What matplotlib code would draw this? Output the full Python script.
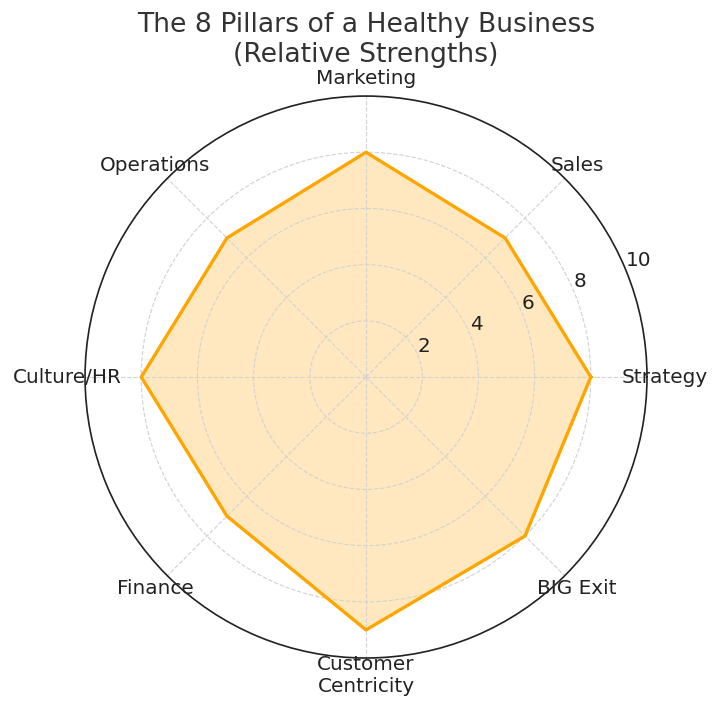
import numpy as np
import matplotlib
matplotlib.use("Agg")
import matplotlib.pyplot as plt

# ── Data ─────────────────────────────────────────────────────
categories = ["Strategy", "Sales", "Marketing", "Operations", "Culture/HR",
              "Finance", "Customer\nCentricity", "BIG Exit"]
values = [8, 7, 8, 7, 8, 7, 9, 8]
r_ticks = [2, 4, 6, 8, 10]

angles = np.linspace(0, 2 * np.pi, len(categories), endpoint=False).tolist()
vals = values + values[:1]
angs = angles + angles[:1]

fig = plt.figure(figsize=(721 / 120, 710 / 120), dpi=120)
ax = fig.add_axes([0.1179, 0.0732, 0.7795, 0.7915], polar=True)

ax.plot(angs, vals, color="orange", linewidth=2)
ax.fill(angs, vals, color="orange", alpha=0.25)

ax.set_ylim(0, 10)
ax.set_yticks(r_ticks)
ax.set_yticklabels([str(t) for t in r_ticks], fontsize=12, color="#222222")
ax.set_xticks(angles)
ax.set_xticklabels(categories, fontsize=12, color="#222222")
ax.tick_params(axis="x", pad=0)
ax.grid(color="lightgray", linestyle="--", linewidth=0.7)
ax.spines["polar"].set_color("#222222")
ax.spines["polar"].set_linewidth(1.0)

ax.set_title("The 8 Pillars of a Healthy Business\n(Relative Strengths)",
             fontsize=16, color="#333333", pad=4)

fig.savefig("out.png", dpi=120)
